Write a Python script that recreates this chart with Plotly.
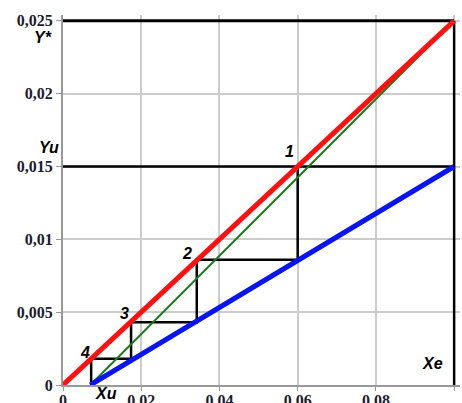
import plotly.graph_objects as go

# Equilibrium line Y* = f(X)
eq_x = [0.0, 0.1]
eq_y = [0.0, 0.025]

# Operating line from (Xu, 0) to (Xe, Yu)
op_x = [0.007, 0.1]
op_y = [0.0, 0.015]

# Auxiliary line from (Xu, 0) to (Xe, Y*)
aux_x = [0.007, 0.1]
aux_y = [0.0, 0.025]

# Stage-by-stage construction between the two lines
step_x = [0.06, 0.06, 0.0342, 0.0342, 0.0174, 0.0174, 0.0072, 0.0072]
step_y = [0.015, 0.0086, 0.0086, 0.0043, 0.0043, 0.0018, 0.0018, 0.0]

# Boundary lines: Y* level, Yu level, Xe level
ystar_x = [0.0, 0.1]
ystar_y = [0.025, 0.025]
yu_x = [0.0, 0.1]
yu_y = [0.015, 0.015]
xe_x = [0.1, 0.1]
xe_y = [-0.001, 0.025]

# Axis ticks
x_ticks = [0, 0.02, 0.04, 0.06, 0.08, 0.1]
x_labels = ["0", "0.02", "0.04", "0.06", "0.08", "0.1"]
y_ticks = [0, 0.005, 0.01, 0.015, 0.02, 0.025]
y_labels = ["0", "0,005", "0,01", "0,015", "0,02", "0,025"]

# Stage numbers (data coordinates)
stage_labels = ["1", "2", "3", "4"]
stage_x = [0.0578, 0.0317, 0.0156, 0.0056]
stage_y = [0.0160, 0.0090, 0.0049, 0.0022]
# Axis markers (paper coordinates, some sit outside the plotting area)
marker_labels = ["Y*", "Yu", "Xu", "Xe"]
marker_px = [-0.050, -0.035, 0.108, 0.930]
marker_py = [0.940, 0.643, -0.022, 0.057]

fig = go.Figure()

black = dict(color="black", width=2.5)
fig.add_trace(go.Scatter(x=ystar_x, y=ystar_y, mode="lines", line=dict(color="black", width=3)))
fig.add_trace(go.Scatter(x=yu_x, y=yu_y, mode="lines", line=black))
fig.add_trace(go.Scatter(x=xe_x, y=xe_y, mode="lines", line=black))
fig.add_trace(go.Scatter(x=step_x, y=step_y, mode="lines", line=black))
fig.add_trace(go.Scatter(x=aux_x, y=aux_y, mode="lines", line=dict(color="#1a7a1a", width=2)))
fig.add_trace(go.Scatter(x=op_x, y=op_y, mode="lines", line=dict(color="#0a14f0", width=5)))
fig.add_trace(go.Scatter(x=eq_x, y=eq_y, mode="lines", line=dict(color="#ff1010", width=5)))

ann_font = dict(family="Liberation Sans", size=16, color="black")
for t, x, y in zip(stage_labels, stage_x, stage_y):
    fig.add_annotation(x=x, y=y, xref="x", yref="y", text=f"<b><i>{t}</i></b>",
                       showarrow=False, xanchor="center", yanchor="middle", font=ann_font)
for t, x, y in zip(marker_labels, marker_px, marker_py):
    fig.add_annotation(x=x, y=y, xref="paper", yref="paper", text=f"<b><i>{t}</i></b>",
                       showarrow=False, xanchor="center", yanchor="middle", font=ann_font)

tick_font = dict(family="Liberation Serif", size=16, color="#1c1c30", weight="bold")
fig.update_xaxes(range=[0, 0.1015], tickvals=x_ticks, ticktext=x_labels,
                 showgrid=True, gridcolor="#cccccc", gridwidth=1.5,
                 showline=True, linecolor="#999999", linewidth=2,
                 ticks="outside", ticklen=4, tickcolor="#999999",
                 zeroline=False, tickfont=tick_font, automargin=False,
                 ticklabelstandoff=-4)
fig.update_yaxes(range=[0, 0.0254], tickvals=y_ticks, ticktext=y_labels,
                 showgrid=True, gridcolor="#cccccc", gridwidth=1.5,
                 showline=True, linecolor="#999999", linewidth=2,
                 ticks="outside", ticklen=5, tickcolor="#999999",
                 zeroline=False, tickfont=tick_font, automargin=False)

fig.update_layout(width=462, height=403, showlegend=False,
                  margin=dict(l=63, r=2, t=15, b=18),
                  paper_bgcolor="white", plot_bgcolor="white")

fig.write_html("out.html")
